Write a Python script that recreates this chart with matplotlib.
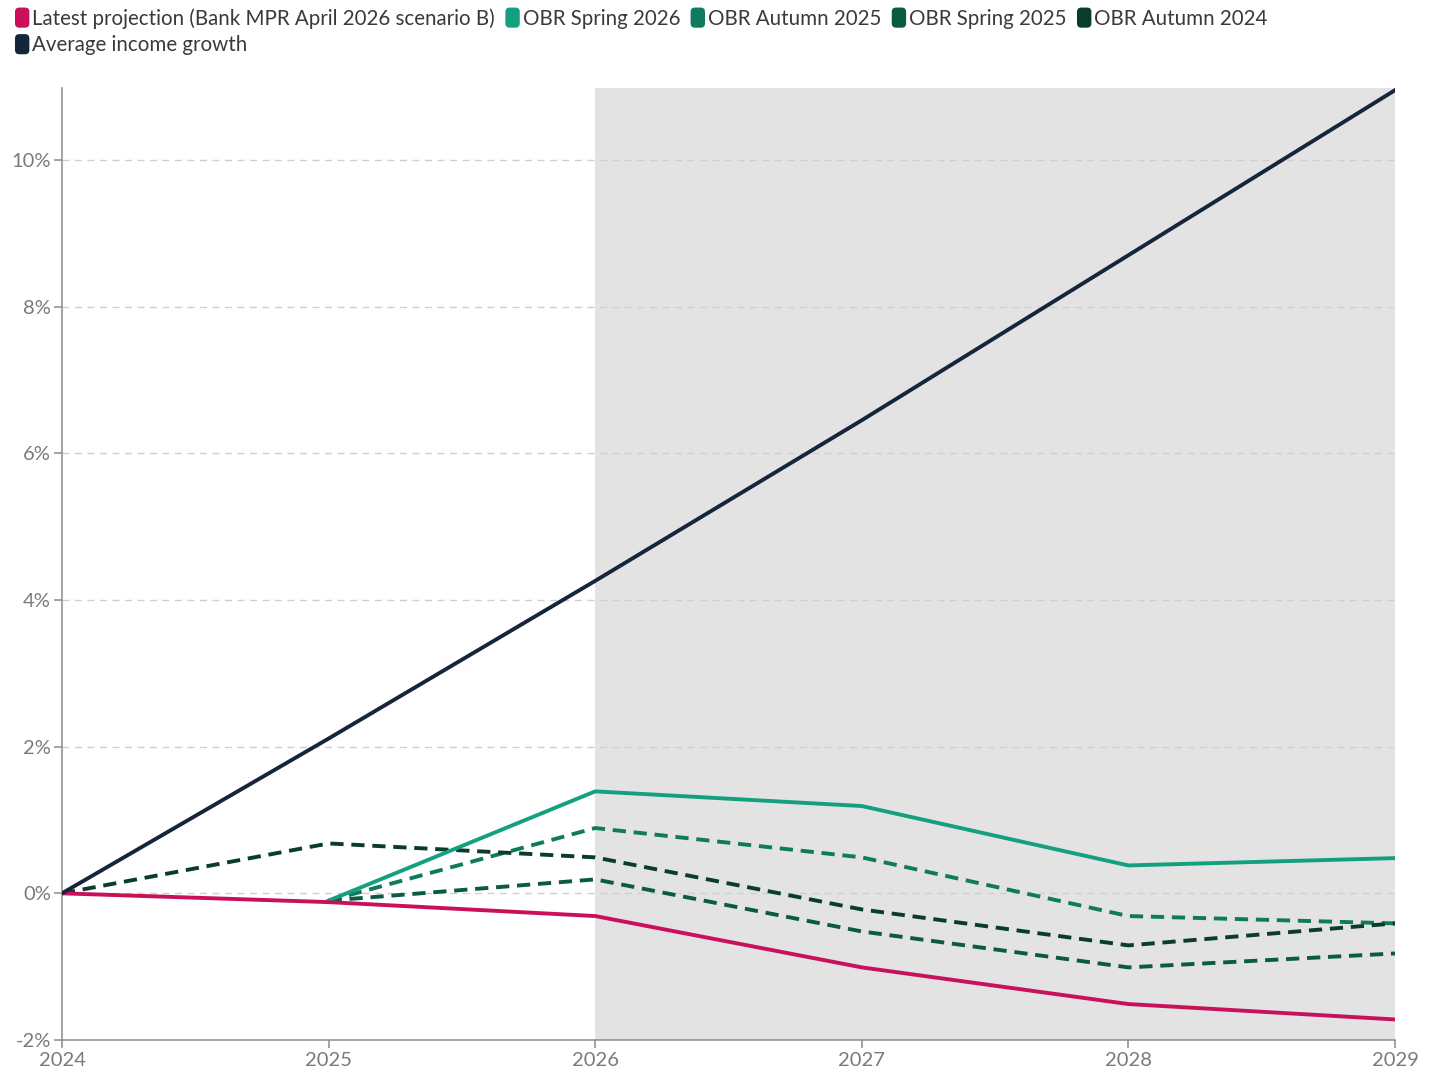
import numpy as np
import matplotlib
matplotlib.use("Agg")
import matplotlib.pyplot as plt
from matplotlib.patches import FancyBboxPatch
from matplotlib.legend_handler import HandlerPatch

plt.rcParams['font.family'] = ['Lato', 'DejaVu Sans']

years = [2024, 2025, 2026, 2027, 2028, 2029]

latest_projection = [0.0, -0.12, -0.31, -1.01, -1.51, -1.72]
obr_spring_2026 = [np.nan, -0.10, 1.39, 1.19, 0.38, 0.48]
obr_autumn_2025 = [np.nan, -0.10, 0.89, 0.49, -0.31, -0.41]
obr_spring_2025 = [np.nan, -0.10, 0.19, -0.52, -1.01, -0.82]
obr_autumn_2024 = [0.0, 0.68, 0.49, -0.22, -0.71, -0.41]
average_income_growth = [0.0, 2.11, 4.26, 6.45, 8.70, 10.95]

forecast_start, forecast_end = 2026, 2029
y_ticks = [-2, 0, 2, 4, 6, 8, 10]

c_latest = "#c8115a"
c_spring26 = "#13a07e"
c_autumn25 = "#0f7a5d"
c_spring25 = "#0b5a43"
c_autumn24 = "#0a3c2e"
c_average = "#15253c"

fig = plt.figure(figsize=(14.35, 10.72), dpi=100)
ax = fig.add_axes([62 / 1435, 1 - 1040 / 1072, (1395 - 62) / 1435, (1040 - 88) / 1072])

ax.set_xlim(years[0], years[-1])
ax.set_ylim(-2, 10.98)

# Shaded forecast period
ax.axvspan(forecast_start, forecast_end, color="#e3e3e3", zorder=0, lw=0)

ax.set_yticks(y_ticks)
ax.set_yticklabels([f"{v}%" for v in y_ticks])
ax.set_xticks(years)
ax.set_xticklabels([str(y) for y in years])
for v in y_ticks[1:]:
    ax.axhline(v, color="#cfcfcf", lw=1, ls=(0, (5, 4)), zorder=1)

lw = 2.8
dash = (0, (3.4, 2.0))
ax.plot(years, latest_projection, color=c_latest, lw=lw, zorder=5, solid_joinstyle="round")
ax.plot(years, obr_spring_2026, color=c_spring26, lw=lw, zorder=4, solid_joinstyle="round")
ax.plot(years, obr_autumn_2025, color=c_autumn25, lw=lw, ls=dash, zorder=3)
ax.plot(years, obr_spring_2025, color=c_spring25, lw=lw, ls=dash, zorder=3)
ax.plot(years, obr_autumn_2024, color=c_autumn24, lw=lw, ls=dash, zorder=3)
ax.plot(years, average_income_growth, color=c_average, lw=lw, zorder=5, solid_joinstyle="round")

for s in ["top", "right"]:
    ax.spines[s].set_visible(False)
for s in ["left", "bottom"]:
    ax.spines[s].set_color("#8a8a8a")
    ax.spines[s].set_linewidth(1.1)
ax.tick_params(axis="both", colors="#8a8a8a", labelcolor="#7a7a7a", labelsize=14.5, length=6, width=1.1)
ax.tick_params(axis="x", pad=3)
ax.tick_params(axis="y", pad=2)


class RoundBoxHandler(HandlerPatch):
    def create_artists(self, legend, orig_handle, xdescent, ydescent, width, height, fontsize, trans):
        w = height * 1.0
        h = height * 1.4
        x0 = -xdescent + width - w
        y0 = -ydescent + (height - h) / 2
        p = FancyBboxPatch((x0, y0), w, h, boxstyle=f"round,pad=0,rounding_size={w * 0.3}",
                           facecolor=orig_handle.get_facecolor(), edgecolor="none", transform=trans)
        return [p]


labels = ["Latest projection (Bank MPR April 2026 scenario B)", "Average income growth",
          "OBR Spring 2026", "OBR Autumn 2025", "OBR Spring 2025", "OBR Autumn 2024"]
colors = [c_latest, c_average, c_spring26, c_autumn25, c_spring25, c_autumn24]
handles = [FancyBboxPatch((0, 0), 1, 1, facecolor=c) for c in colors]
leg = fig.legend(handles, labels, ncol=5, loc="upper left", bbox_to_anchor=(0.004, 1.0),
                 frameon=False, fontsize=14.8, labelcolor="#3a3a3a",
                 handler_map={FancyBboxPatch: RoundBoxHandler()},
                 handlelength=0.75, handletextpad=0.15, columnspacing=0.45,
                 labelspacing=0.32, borderaxespad=0.3, borderpad=0.1)

fig.savefig("out.png", dpi=100)
